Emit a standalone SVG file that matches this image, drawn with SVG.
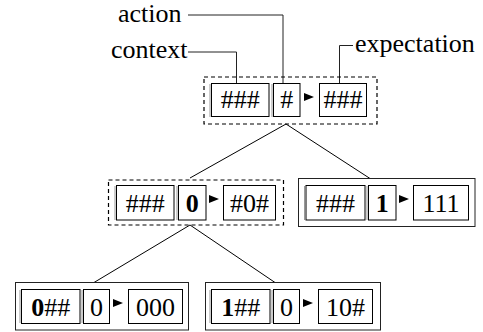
<svg xmlns="http://www.w3.org/2000/svg" width="483" height="332" viewBox="0 0 483 332" font-family="'Liberation Serif', 'Times New Roman', serif" font-size="26">
<style>
.t{font-family:"Liberation Serif","Times New Roman",serif;font-size:26px;fill:#000}
.c{text-anchor:middle}
.b{font-weight:bold}
.box{fill:#fff;stroke:#000;stroke-width:1}
.dash{fill:none;stroke:#000;stroke-width:1.2;stroke-dasharray:4,3}
.outer{fill:#fff;stroke:#222;stroke-width:1}
.edge{stroke:#000;stroke-width:1;fill:none}
.lead{stroke:#222;stroke-width:1;fill:none}
.tri{fill:#000}
.sh{stroke:#999;stroke-width:1}
</style>
<rect width="483" height="332" fill="#fff"/>
<g id="connectors">
<line class="edge" x1="286" y1="124" x2="190" y2="178"/>
<line class="edge" x1="286" y1="124" x2="370" y2="178.5"/>
<line class="edge" x1="190" y1="225" x2="94" y2="282.5"/>
<line class="edge" x1="190" y1="225" x2="275" y2="282.5"/>
</g>
<g id="labels">
<text class="t" x="118" y="22">action</text>
<polyline class="lead" points="188,15 283,15 283,83.5"/>
<text class="t" x="111" y="58">context</text>
<polyline class="lead" points="188,52 236.5,52 236.5,83.5"/>
<text class="t" x="355" y="52">expectation</text>
<polyline class="lead" points="353,45.5 339.5,45.5 339.5,83.5"/>
</g>
<g id="n0">
<rect class="dash" x="204" y="77" width="173" height="47"/>
<line class="sh" x1="210" y1="84" x2="210" y2="117"/>
<rect class="box" x="211.5" y="83.5" width="57.5" height="33"/>
<line class="sh" x1="272" y1="84" x2="272" y2="117"/>
<rect class="box" x="273.5" y="83.5" width="26.5" height="33"/>
<polygon class="tri" points="304,93 314,97 304,101"/>
<rect class="box" x="319.5" y="83.5" width="47" height="33"/>
<text class="t c" x="240.3" y="108">###</text>
<text class="t c" x="286.7" y="108">#</text>
<text class="t c" x="343" y="108">###</text>
</g>
<g id="n1">
<rect class="dash" x="108.5" y="180" width="175" height="45"/>
<line class="sh" x1="115" y1="186" x2="115" y2="220"/>
<rect class="box" x="116.5" y="185.5" width="57.5" height="34.5"/>
<line class="sh" x1="177" y1="186" x2="177" y2="220"/>
<rect class="box" x="178.5" y="185.5" width="27.5" height="34.5"/>
<polygon class="tri" points="209,195 219,199 209,203"/>
<rect class="box" x="223.5" y="185.5" width="52" height="34.5"/>
<text class="t c" x="145.3" y="212">###</text>
<text class="t c b" x="192.3" y="212">0</text>
<text class="t c" x="249.5" y="212">#0#</text>
</g>
<g id="n2">
<rect class="outer" x="298.5" y="178.5" width="176.5" height="48"/>
<line class="sh" x1="304.5" y1="186" x2="304.5" y2="220"/>
<rect class="box" x="306" y="185.5" width="59" height="34.5"/>
<line class="sh" x1="367" y1="186" x2="367" y2="220"/>
<rect class="box" x="368.5" y="185.5" width="27.5" height="34.5"/>
<polygon class="tri" points="399,195 409,199 399,203"/>
<rect class="box" x="413.5" y="185.5" width="55" height="34.5"/>
<text class="t c" x="335.5" y="212">###</text>
<text class="t c b" x="382.3" y="212">1</text>
<text class="t c" x="441" y="212">111</text>
</g>
<g id="n3">
<rect class="outer" x="15.5" y="282.5" width="173" height="47.5"/>
<line class="sh" x1="20" y1="290" x2="20" y2="323"/>
<rect class="box" x="21.5" y="289.5" width="58.5" height="34"/>
<line class="sh" x1="82" y1="290" x2="82" y2="323"/>
<rect class="box" x="83.5" y="289.5" width="26" height="34"/>
<polygon class="tri" points="113,299 123,303 113,307"/>
<rect class="box" x="128.5" y="289.5" width="54" height="34"/>
<text class="t c" x="50.7" y="316"><tspan font-weight="bold">0</tspan>##</text>
<text class="t c" x="96.5" y="316">0</text>
<text class="t c" x="155.5" y="316">000</text>
</g>
<g id="n4">
<rect class="outer" x="205.5" y="282.5" width="175" height="47.5"/>
<line class="sh" x1="210" y1="290" x2="210" y2="323"/>
<rect class="box" x="211.5" y="289.5" width="58.5" height="34"/>
<line class="sh" x1="272" y1="290" x2="272" y2="323"/>
<rect class="box" x="273.5" y="289.5" width="26" height="34"/>
<polygon class="tri" points="303,299 313,303 303,307"/>
<rect class="box" x="318.5" y="289.5" width="54" height="34"/>
<text class="t c" x="240.7" y="316"><tspan font-weight="bold">1</tspan>##</text>
<text class="t c" x="286.5" y="316">0</text>
<text class="t c" x="345.5" y="316">10#</text>
</g>
</svg>
